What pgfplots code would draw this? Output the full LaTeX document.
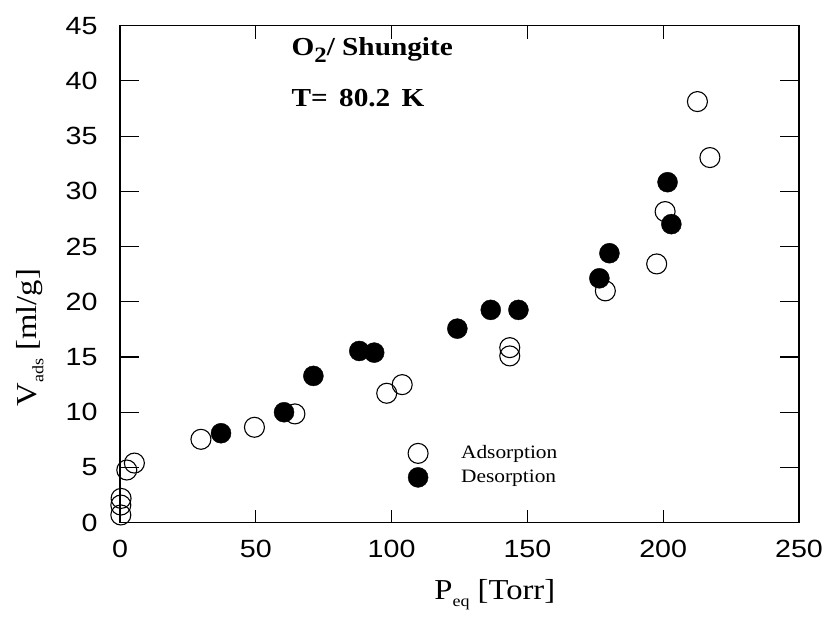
\documentclass[border=0pt]{standalone}
\usepackage{fontspec}
\setmainfont[FakeStretch=1.13]{Liberation Serif}
\newfontfamily\arialf[FakeStretch=1.15]{Liberation Sans}
\usepackage{pgfplots}
\pgfplotsset{compat=1.18}
\pgfplotstableread{
x y
0.3 0.7
0.3 1.6
0.4 2.2
2.5 4.77
5.3 5.4
29.8 7.55
49.5 8.64
64.4 9.85
98.2 11.72
103.9 12.5
143.5 15.85
143.5 15.1
178.7 20.99
197.6 23.43
200.7 28.17
217.2 33.06
212.6 38.13
}\adsdata
\pgfplotstableread{
x y
37.2 8.1
60.4 10.0
71.2 13.29
88.1 15.55
93.6 15.4
124.2 17.57
136.5 19.27
146.7 19.27
176.5 22.13
180.2 24.4
201.6 30.83
203.0 27.03
}\desdata
\begin{document}
\begin{tikzpicture}
\begin{axis}[name=ax, scale only axis, width=679bp, height=497bp,
  xmin=0, xmax=250, ymin=0, ymax=45,
  xtick={0,50,...,250}, ytick={0,5,...,45},
  tick align=inside,
  axis line style={line width=1.2bp},
  major tick length=19bp,
  every tick/.style={black, line width=1.1bp},
  xtick style={/pgfplots/major tick length=13bp},
  /pgf/number format/assume math mode=true,
  tick label style={font=\arialf\fontsize{25}{25}\selectfont},
  xticklabel style={yshift=-14bp},
  yticklabel style={xshift=-19bp},
  every axis x label/.style={at={(axis description cs:0.552,-0.155)}, anchor=base},
  every axis y label/.style={at={(axis description cs:-0.1325,0.372)}, anchor=center, rotate=90},
  label style={font=\fontsize{29}{29}\selectfont},
  xlabel={P\raisebox{-7bp}{\fontsize{16}{16}\selectfont eq} [Torr]},
  ylabel={V\raisebox{-7bp}{\fontsize{16}{16}\selectfont ads} [ml/g]},
  legend style={at={(rel axis cs:0.424,0.162)}, anchor=north west, draw=none, fill=none,
    font=\fontsize{19}{19}\selectfont, inner sep=0pt, row sep=2bp,
    nodes={inner sep=1bp, text height=15bp, text depth=5bp}},
  legend cell align=left,
  legend image code/.code={\draw[#1] plot coordinates {(0.36cm,0cm)};},
]
\addplot[only marks, mark=o, mark size=10bp, mark options={line width=1.1bp, black}] table {\adsdata};
\addlegendentry{\hspace*{32bp}Adsorption}
\addplot[only marks, mark=*, mark size=10bp, mark options={black, fill=black}] table {\desdata};
\addlegendentry{\hspace*{32bp}Desorption}
\node[anchor=base west, font=\bfseries\fontsize{26}{26}\selectfont] at (axis cs:61.9,42.27) {O\raisebox{-7bp}{\fontsize{22}{22}\selectfont 2}/ Shungite};
\node[anchor=base west, font=\bfseries\fontsize{26}{26}\selectfont] at (axis cs:61.9,37.65) {T=\hspace{4bp} 80.2\hspace{4bp} K};
\end{axis}
\pgfresetboundingbox
\path (ax.south west) ++(-120bp,-111.3bp) rectangle ++(831bp,634bp);
\end{tikzpicture}
\end{document}
